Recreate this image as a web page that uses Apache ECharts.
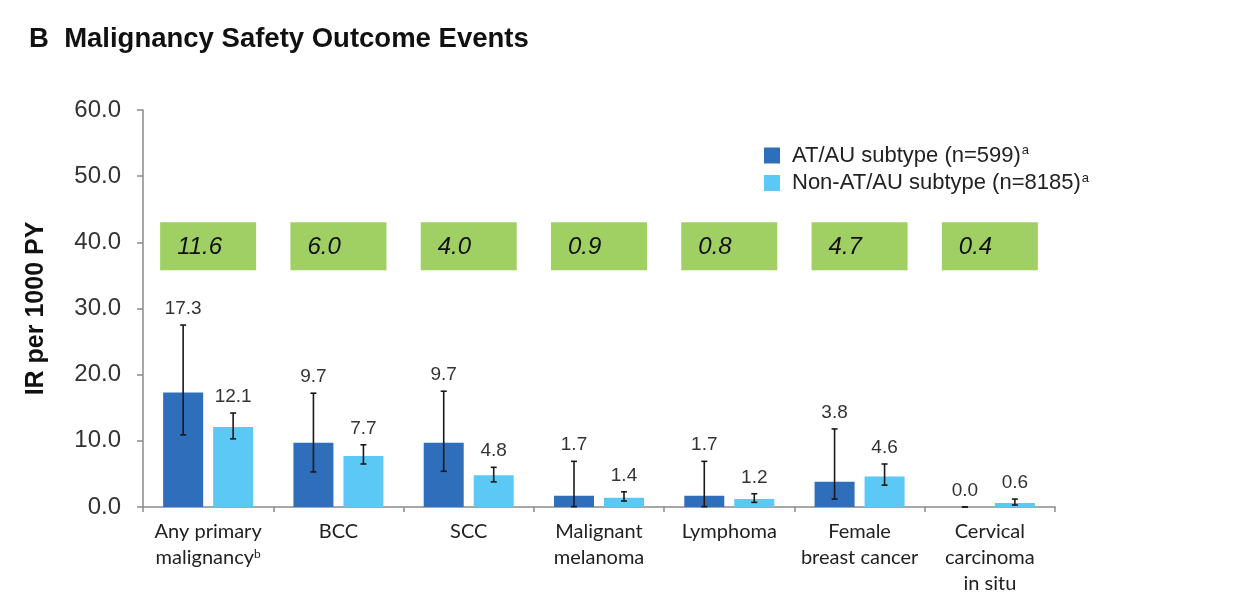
<!DOCTYPE html>
<html><head><meta charset="utf-8">
<script src="https://cdn.jsdelivr.net/npm/echarts@6/dist/echarts.min.js"></script>
<style>html,body{margin:0;padding:0;background:#fff}#c{width:1240px;height:608px}</style>
</head><body><div id="c"></div>
<script>
// ---- data ----
const categories = ['Any primary\nmalignancy', 'BCC', 'SCC', 'Malignant\nmelanoma', 'Lymphoma', 'Female\nbreast cancer', 'Cervical\ncarcinoma\nin situ'];
const categoryNotes = ['b', '', '', '', '', '', ''];
const seriesNames = ['AT/AU subtype (n=599)', 'Non-AT/AU subtype (n=8185)'];
const seriesNotes = ['a', 'a'];
const atauIR = [17.3, 9.7, 9.7, 1.7, 1.7, 3.8, 0.0];
const atauLow = [10.9, 5.3, 5.4, 0.05, 0.05, 1.2, 0.0];
const atauHigh = [27.5, 17.2, 17.5, 6.9, 6.9, 11.8, 0.0];
const nonAtauIR = [12.1, 7.7, 4.8, 1.4, 1.2, 4.6, 0.6];
const nonAtauLow = [10.3, 6.5, 3.8, 0.9, 0.7, 3.3, 0.3];
const nonAtauHigh = [14.2, 9.4, 6.0, 2.3, 2.0, 6.5, 1.2];
const boxValues = [11.6, 6.0, 4.0, 0.9, 0.8, 4.7, 0.4];
const yTicks = { min: 0, max: 60, interval: 10 };

// ---- style ----
const DARK = '#2F6EBA', LIGHT = '#5BC8F5', GREEN = '#A0CF63';
const BAR_W = 40, BAR_GAP = 0.25;
const OFFSET = (BAR_W + BAR_W * BAR_GAP) / 2;
const BOX_Y = 39.4, BOX_W = 96, BOX_H = 48;
const FONT = 'Liberation Sans, Arial';

const chart = echarts.init(document.getElementById('c'));

function errData(low, high) { return low.map((l, i) => [i, l, high[i]]); }
function errRender(sign) {
  return function (params, api) {
    const i = api.value(0);
    const lo = api.coord([i, api.value(1)]);
    const hi = api.coord([i, api.value(2)]);
    const x = lo[0] + sign * OFFSET;
    const st = { stroke: '#1a1a1a', lineWidth: 1.6 };
    return { type: 'group', children: [
      { type: 'line', shape: { x1: x, y1: lo[1], x2: x, y2: hi[1] }, style: st },
      { type: 'line', shape: { x1: x - 3, y1: lo[1], x2: x + 3, y2: lo[1] }, style: st },
      { type: 'line', shape: { x1: x - 3, y1: hi[1], x2: x + 3, y2: hi[1] }, style: st }
    ]};
  };
}
function labelData(vals, high) { return vals.map((v, i) => [i, high[i], v]); }
function labelRender(sign) {
  return function (params, api) {
    const i = api.value(0);
    const p = api.coord([i, api.value(1)]);
    return { type: 'text', style: {
      text: api.value(2).toFixed(1), x: p[0] + sign * OFFSET, y: p[1] - 7,
      align: 'center', verticalAlign: 'bottom',
      fontSize: 19, fontFamily: FONT, fill: '#333'
    }};
  };
}

chart.setOption({
  animation: false,
  title: {
    text: 'B  Malignancy Safety Outcome Events', left: 24, top: 20,
    textStyle: { fontSize: 27.5, fontWeight: 'bold', fontFamily: FONT, color: '#111' }
  },
  legend: {
    orient: 'vertical', left: 759, top: 139, itemWidth: 16, itemHeight: 16, itemGap: 5,
    icon: 'rect',
    data: seriesNames,
    formatter: function (name) {
      const k = seriesNames.indexOf(name);
      return '{t|' + name + '}' + (seriesNotes[k] ? '{sup|' + seriesNotes[k] + '}' : '');
    },
    textStyle: {
      fontFamily: FONT, fontSize: 22, color: '#222',
      rich: {
        t: { fontSize: 22, fontFamily: FONT, color: '#222', padding: [0, 0, 0, 7] },
        sup: { fontSize: 13, fontFamily: FONT, color: '#222', padding: [0, 0, 10, 1] }
      }
    }
  },
  grid: { left: 143, right: 185, top: 110, bottom: 101 },
  xAxis: {
    type: 'category', data: categories, boundaryGap: true,
    axisLine: { lineStyle: { color: '#8a8a8a', width: 1.5 } },
    axisTick: { show: true, alignWithLabel: false, length: 5, lineStyle: { color: '#8a8a8a', width: 1.5 } },
    axisLabel: {
      interval: 0, margin: 12, color: '#222', fontSize: 20, fontFamily: 'Lato', lineHeight: 26,
      formatter: function (v, i) { return v + (categoryNotes[i] ? '{sup|' + categoryNotes[i] + '}' : ''); },
      rich: { sup: { fontSize: 12, fontFamily: 'Lato', color: '#222', padding: [0, 0, 8, 0] } }
    }
  },
  yAxis: {
    type: 'value', min: yTicks.min, max: yTicks.max, interval: yTicks.interval,
    name: 'IR per 1000 PY', nameLocation: 'middle', nameGap: 94,
    nameTextStyle: { fontSize: 25, fontWeight: 'bold', fontFamily: FONT, color: '#111' },
    axisLine: { show: true, lineStyle: { color: '#8a8a8a', width: 1.5 } },
    axisTick: { show: true, length: 6, lineStyle: { color: '#8a8a8a', width: 1.5 } },
    splitLine: { show: false },
    axisLabel: { margin: 22, fontSize: 24, color: '#333', fontFamily: FONT,
      formatter: v => v.toFixed(1) }
  },
  series: [
    { name: seriesNames[0], type: 'bar', data: atauIR, barWidth: BAR_W, barGap: (BAR_GAP * 100) + '%',
      itemStyle: { color: DARK } },
    { name: seriesNames[1], type: 'bar', data: nonAtauIR, barWidth: BAR_W,
      itemStyle: { color: LIGHT } },
    { type: 'custom', renderItem: errRender(-1), data: errData(atauLow, atauHigh), z: 5, encode: { x: 0, y: [1, 2] } },
    { type: 'custom', renderItem: errRender(1), data: errData(nonAtauLow, nonAtauHigh), z: 5, encode: { x: 0, y: [1, 2] } },
    { type: 'custom', renderItem: labelRender(-1), data: labelData(atauIR, atauHigh), z: 6, encode: { x: 0, y: 1 } },
    { type: 'custom', renderItem: labelRender(1), data: labelData(nonAtauIR, nonAtauHigh), z: 6, encode: { x: 0, y: 1 } },
    { type: 'custom', z: 7, encode: { x: 0, y: 1 },
      data: boxValues.map((v, i) => [i, BOX_Y, v]),
      renderItem: function (params, api) {
        const p = api.coord([api.value(0), api.value(1)]);
        const x0 = p[0] - BOX_W / 2, y0 = p[1] - BOX_H / 2;
        return { type: 'group', children: [
          { type: 'rect', shape: { x: x0, y: y0, width: BOX_W, height: BOX_H }, style: { fill: GREEN } },
          { type: 'text', style: { text: api.value(2).toFixed(1), x: x0 + 17, y: p[1] + 1,
            align: 'left', verticalAlign: 'middle', fontSize: 24, fontStyle: 'italic',
            fontFamily: FONT, fill: '#111' } }
        ]};
      }
    }
  ]
});
</script></body></html>
